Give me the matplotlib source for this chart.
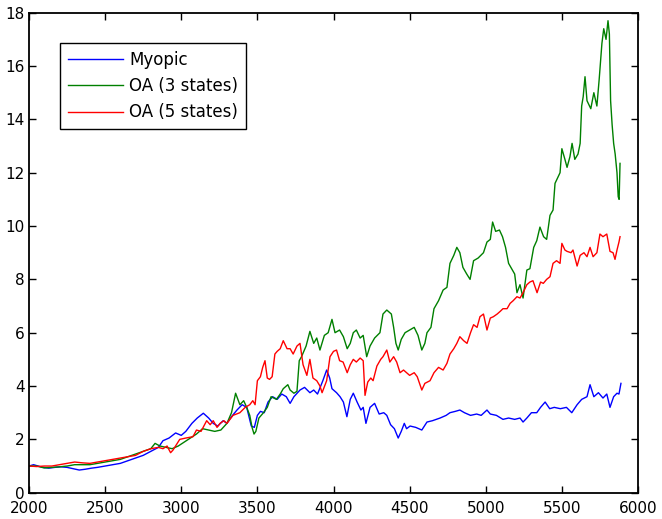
import matplotlib
matplotlib.use("Agg")
import matplotlib.pyplot as plt

# ---- data ----
myopic_x = [2000, 2030, 2060, 2090, 2130, 2170, 2210, 2250, 2290, 2330, 2370, 2410, 2450, 2500,
            2550, 2600, 2650, 2700, 2750, 2800, 2850, 2880, 2920, 2963, 3000, 3030, 3070, 3105,
            3145, 3180, 3210, 3240, 3275, 3300, 3330, 3366, 3400, 3430, 3460, 3480, 3500, 3520,
            3545, 3570, 3600, 3630, 3660, 3690, 3715, 3740, 3780, 3810, 3845, 3870, 3895, 3930,
            3955, 3975, 3990, 4020, 4043, 4065, 4088, 4110, 4130, 4155, 4180, 4195, 4213, 4240,
            4270, 4300, 4330, 4350, 4375, 4400, 4425, 4445, 4465, 4480, 4503, 4540, 4580, 4614,
            4650, 4700, 4740, 4765, 4800, 4830, 4860, 4900, 4940, 4970, 5008, 5030, 5070, 5113,
            5150, 5190, 5225, 5245, 5270, 5300, 5335, 5360, 5390, 5420, 5450, 5490, 5530, 5565,
            5600, 5630, 5665, 5685, 5710, 5740, 5770, 5795, 5816, 5840, 5862, 5875, 5888]
myopic_y = [1.0, 1.05, 1.0, 0.95, 0.92, 0.95, 0.97, 0.95, 0.9, 0.85, 0.88, 0.92, 0.95, 1.0,
            1.05, 1.1, 1.2, 1.3, 1.4, 1.55, 1.7, 1.95, 2.05, 2.24, 2.15, 2.3, 2.6, 2.8,
            2.98, 2.8, 2.6, 2.5, 2.7, 2.6, 2.85, 3.1, 3.3, 3.2, 2.5, 2.45, 2.9, 3.05,
            3.0, 3.4, 3.6, 3.5, 3.7, 3.6, 3.35, 3.6, 3.85, 3.95, 3.75, 3.85, 3.7, 4.2,
            4.6, 4.3, 3.9, 3.75, 3.6, 3.4, 2.85, 3.5, 3.73, 3.4, 3.1, 3.2, 2.6, 3.2,
            3.35, 2.95, 3.0, 2.9, 2.55, 2.4, 2.05, 2.3, 2.6, 2.4, 2.5, 2.45, 2.35, 2.65,
            2.7, 2.8, 2.9, 3.0, 3.05, 3.1, 3.0, 2.9, 2.95, 2.9, 3.1, 2.95, 2.9, 2.75,
            2.8, 2.75, 2.8, 2.65, 2.8, 3.0, 3.0, 3.2, 3.4, 3.15, 3.2, 3.15, 3.2, 3.0,
            3.3, 3.5, 3.6, 4.05, 3.6, 3.75, 3.55, 3.7, 3.2, 3.6, 3.73, 3.7, 4.1]

oa3_x = [2000, 2050, 2100, 2150, 2200, 2250, 2300, 2350, 2400, 2450, 2500, 2550, 2600, 2650,
         2700, 2750, 2800, 2828, 2860, 2900, 2940, 2980, 3020, 3060, 3100, 3140, 3180, 3220,
         3260, 3300, 3330, 3357, 3385, 3410, 3430, 3450, 3465, 3478, 3490, 3510, 3540, 3565,
         3590, 3625, 3650, 3670, 3700, 3715, 3740, 3760, 3775, 3790, 3820, 3845, 3870, 3890,
         3911, 3940, 3965, 3990, 4010, 4040, 4065, 4090, 4110, 4130, 4150, 4175, 4195, 4218,
         4240, 4270, 4305, 4325, 4350, 4380, 4395, 4410, 4425, 4445, 4470, 4500, 4530, 4555,
         4580, 4600, 4614, 4640, 4660, 4690, 4720, 4745, 4765, 4790, 4810, 4830, 4850, 4875,
         4897, 4920, 4950, 4985, 5008, 5030, 5045, 5065, 5090, 5110, 5130, 5150, 5170, 5190,
         5205, 5225, 5245, 5270, 5290, 5315, 5335, 5356, 5380, 5400, 5422, 5442, 5455, 5488,
         5500, 5520, 5534, 5553, 5567, 5585, 5606, 5620, 5630, 5640, 5652, 5665, 5690, 5710,
         5730, 5745, 5763, 5775, 5790, 5803, 5812, 5820, 5830, 5840, 5850, 5862, 5870, 5876, 5882]
oa3_y = [1.0, 1.0, 0.93, 0.95, 0.97, 1.0, 1.05, 1.05, 1.05, 1.1, 1.15, 1.2, 1.25, 1.35,
         1.45, 1.55, 1.65, 1.85, 1.75, 1.7, 1.65, 1.75, 1.9, 2.05, 2.2, 2.4, 2.35, 2.3,
         2.35, 2.6, 3.0, 3.73, 3.3, 3.45, 3.2, 2.9, 2.45, 2.2, 2.3, 2.8, 3.0, 3.2,
         3.6, 3.5, 3.7, 3.9, 4.05, 3.85, 3.73, 3.8, 4.95, 5.1, 5.5, 6.05, 5.6, 5.8,
         5.35, 5.9, 6.0, 6.5, 6.0, 6.1, 5.85, 5.4, 5.6, 6.0, 6.1, 5.8, 5.9, 5.1,
         5.5, 5.8, 6.0, 6.7, 6.85, 6.7, 6.2, 5.6, 5.35, 5.75, 6.0, 6.1, 6.2, 5.9,
         5.35, 5.6, 6.0, 6.2, 6.9, 7.2, 7.6, 7.7, 8.6, 8.9, 9.2, 9.0, 8.45, 8.2,
         8.0, 8.7, 8.8, 9.0, 9.4, 9.5, 10.15, 9.8, 9.85, 9.6, 9.2, 8.6, 8.4, 8.2,
         7.5, 7.8, 7.3, 8.35, 8.4, 9.2, 9.45, 9.96, 9.6, 9.5, 10.4, 10.6, 11.6, 12.0,
         12.9, 12.5, 12.2, 12.6, 13.1, 12.5, 12.7, 13.1, 14.5, 14.85, 15.6, 14.7, 14.4, 15.0,
         14.5, 15.5, 16.85, 17.4, 17.0, 17.7, 17.2, 14.7, 13.8, 13.1, 12.7, 12.0, 11.1, 11.0, 12.35]

oa5_x = [2000, 2050, 2100, 2150, 2200, 2250, 2300, 2350, 2400, 2450, 2500, 2550, 2600, 2650,
         2700, 2750, 2800, 2850, 2880, 2907, 2930, 2946, 2990, 3030, 3077, 3100, 3130, 3167,
         3190, 3210, 3235, 3255, 3280, 3300, 3340, 3385, 3420, 3450, 3470, 3485, 3500, 3520,
         3535, 3550, 3565, 3580, 3597, 3615, 3630, 3650, 3670, 3695, 3715, 3735, 3760, 3780,
         3800, 3825, 3845, 3865, 3890, 3911, 3925, 3955, 3977, 4000, 4020, 4040, 4063, 4090,
         4110, 4130, 4150, 4175, 4195, 4207, 4225, 4245, 4260, 4285, 4310, 4325, 4350, 4370,
         4395, 4415, 4437, 4460, 4500, 4530, 4550, 4580, 4600, 4634, 4660, 4690, 4720, 4745,
         4765, 4790, 4810, 4830, 4855, 4877, 4900, 4920, 4943, 4962, 4985, 5008, 5030, 5050,
         5075, 5095, 5113, 5140, 5160, 5180, 5205, 5225, 5245, 5270, 5290, 5310, 5337, 5360,
         5378, 5400, 5422, 5442, 5465, 5488, 5500, 5520, 5534, 5560, 5573, 5600, 5620, 5645,
         5665, 5685, 5705, 5730, 5750, 5770, 5795, 5816, 5836, 5849, 5862, 5875, 5882]
oa5_y = [1.0, 0.98, 1.0, 1.0, 1.05, 1.1, 1.15, 1.12, 1.1, 1.15, 1.2, 1.25, 1.3, 1.35,
         1.4, 1.55, 1.65, 1.7, 1.65, 1.75, 1.5, 1.6, 2.0, 2.05, 2.1, 2.35, 2.3, 2.7,
         2.55, 2.7, 2.45, 2.6, 2.7, 2.6, 2.9, 3.0, 3.2, 3.3, 3.45, 3.3, 4.2, 4.35,
         4.7, 4.95, 4.3, 4.25, 4.35, 5.2, 5.3, 5.4, 5.7, 5.4, 5.4, 5.2, 5.5, 5.6,
         4.8, 4.4, 5.0, 4.3, 4.2, 4.0, 3.75, 4.2, 5.1, 5.3, 5.35, 4.95, 4.9, 4.5,
         4.8, 5.0, 4.9, 5.05, 4.95, 3.65, 4.15, 4.3, 4.2, 4.75, 5.0, 5.1, 5.35, 4.9,
         5.1, 4.9, 4.5, 4.6, 4.4, 4.5, 4.35, 3.85, 4.1, 4.2, 4.5, 4.7, 4.6, 4.85,
         5.2, 5.4, 5.6, 5.85, 5.7, 5.6, 6.0, 6.3, 6.2, 6.6, 6.7, 6.1, 6.55, 6.6,
         6.7, 6.8, 6.9, 6.9, 7.1, 7.2, 7.35, 7.3, 7.5, 7.8, 7.9, 7.95, 7.5, 7.9,
         7.85, 8.0, 8.1, 8.6, 8.7, 8.6, 9.35, 9.1, 9.05, 9.0, 9.1, 8.5, 8.9, 9.0,
         8.85, 9.2, 8.85, 9.0, 9.7, 9.6, 9.7, 9.05, 9.0, 8.75, 9.1, 9.4, 9.6]

labels = ["Myopic", "OA (3 states)", "OA (5 states)"]
x_ticks = [2000, 2500, 3000, 3500, 4000, 4500, 5000, 5500, 6000]
y_ticks = [0, 2, 4, 6, 8, 10, 12, 14, 16, 18]

plt.rcParams['font.family'] = ['DejaVu Sans']
plt.rcParams['font.size'] = 11

fig = plt.figure(figsize=(6.62, 5.19), dpi=100)
ax = fig.add_axes([29 / 662, 26.3 / 519, 609 / 662, 480 / 519])

ax.plot(myopic_x, myopic_y, color=(0, 0, 1), lw=1.0, label=labels[0])
ax.plot(oa3_x, oa3_y, color=(0, 0.5, 0), lw=1.0, label=labels[1])
ax.plot(oa5_x, oa5_y, color=(1, 0, 0), lw=1.0, label=labels[2])

ax.set_xlim(2000, 6000)
ax.set_ylim(0, 18)
ax.set_xticks(x_ticks)
ax.set_yticks(y_ticks)
ax.tick_params(direction='in', top=True, right=True, length=5, width=1,
               labelsize=11, colors='black')
ax.tick_params(axis='x', pad=6)
ax.tick_params(axis='y', pad=3)
for s in ax.spines.values():
    s.set_linewidth(1.3)
    s.set_color('black')

leg = ax.legend(loc='upper left', bbox_to_anchor=(31 / 609, 1 - 30.5 / 480),
                borderaxespad=0, fancybox=False, framealpha=1, edgecolor='black',
                handlelength=3.3, handletextpad=0.4, labelspacing=0.5,
                borderpad=0.45, fontsize=12)
leg.get_frame().set_linewidth(1.0)

fig.savefig("out.png", dpi=100)
